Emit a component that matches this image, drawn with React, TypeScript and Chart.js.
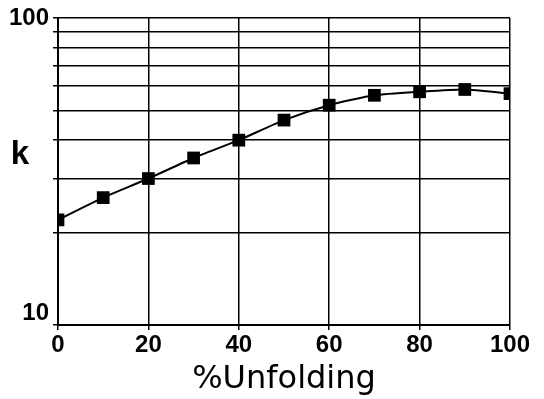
import React, { useEffect, useRef } from "react";
import { Chart, registerables } from "chart.js";

Chart.register(...registerables);

const unfolding = [0, 10, 20, 30, 40, 50, 60, 70, 80, 90, 100];
const kValues = [22, 26, 30, 35, 40, 46.5, 52, 56, 57.5, 58.5, 56.7];
const yTicks = [10, 20, 30, 40, 50, 60, 70, 80, 90, 100];
const yLabeled = [10, 100];
const xTitle = "%Unfolding";
const yTitle = "k";

const FONT = "'Liberation Sans', Arial, sans-serif";
const TITLE_FONT = "'DejaVu Sans', sans-serif";

const yTitlePlugin = {
  id: "yTitleHorizontal",
  afterDraw(chart: any) {
    const ctx = chart.ctx;
    ctx.save();
    ctx.fillStyle = "#000";
    ctx.font = `bold 33px ${FONT}`;
    ctx.textAlign = "center";
    ctx.textBaseline = "alphabetic";
    ctx.fillText(yTitle, 20, 164);
    ctx.restore();
  },
};

export default function App() {
  const ref = useRef<HTMLCanvasElement>(null);
  useEffect(() => {
    document.body.style.margin = "0";
    const chart = new Chart(ref.current!, {
      type: "line",
      data: {
        datasets: [
          {
            data: unfolding.map((x, i) => ({ x, y: kValues[i] })),
            borderColor: "#000",
            backgroundColor: "#000",
            borderWidth: 2,
            pointStyle: "rect",
            pointRadius: 9,
            pointBorderWidth: 0,
            tension: 0.2,
          },
        ],
      },
      options: {
        animation: false,
        responsive: false,
        layout: { padding: { top: 18, right: 34, left: 0, bottom: 0 } },
        plugins: { legend: { display: false }, tooltip: { enabled: false } },
        scales: {
          x: {
            type: "linear",
            min: 0,
            max: 100,
            afterFit: (s: any) => {
              s.height = 74;
            },
            ticks: {
              stepSize: 20,
              color: "#000",
              font: { family: FONT, size: 24, weight: "bold" },
              padding: 1,
              maxRotation: 0,
            },
            grid: { color: "#000", lineWidth: 1.5, tickLength: 5 },
            border: { color: "#000", width: 2 },
            title: {
              display: true,
              text: xTitle,
              color: "#000",
              font: { family: TITLE_FONT, size: 32 },
              padding: { top: 0, bottom: 0 },
            },
          },
          y: {
            type: "logarithmic",
            min: 10,
            max: 100,
            afterFit: (s: any) => {
              s.width = 58;
            },
            afterBuildTicks: (s: any) => {
              s.ticks = yTicks.map((v) => ({ value: v, major: false }));
            },
            ticks: {
              color: "#000",
              font: { family: FONT, size: 24, weight: "bold", lineHeight: 1.0 },
              padding: 4,
              autoSkip: false,
              callback: (v: any) => {
                const n = Number(v);
                if (!yLabeled.includes(n)) return "";
                return n === 10 ? [String(n), ""] : String(n);
              },
            },
            grid: { color: "#000", lineWidth: 1.5, tickLength: 5 },
            border: { color: "#000", width: 2 },
          },
        },
      },
      plugins: [yTitlePlugin],
    });
    return () => chart.destroy();
  }, []);
  return (
    <div style={{ width: 544, height: 399 }}>
      <canvas ref={ref} width={544} height={399} style={{ width: 544, height: 399 }} />
    </div>
  );
}
